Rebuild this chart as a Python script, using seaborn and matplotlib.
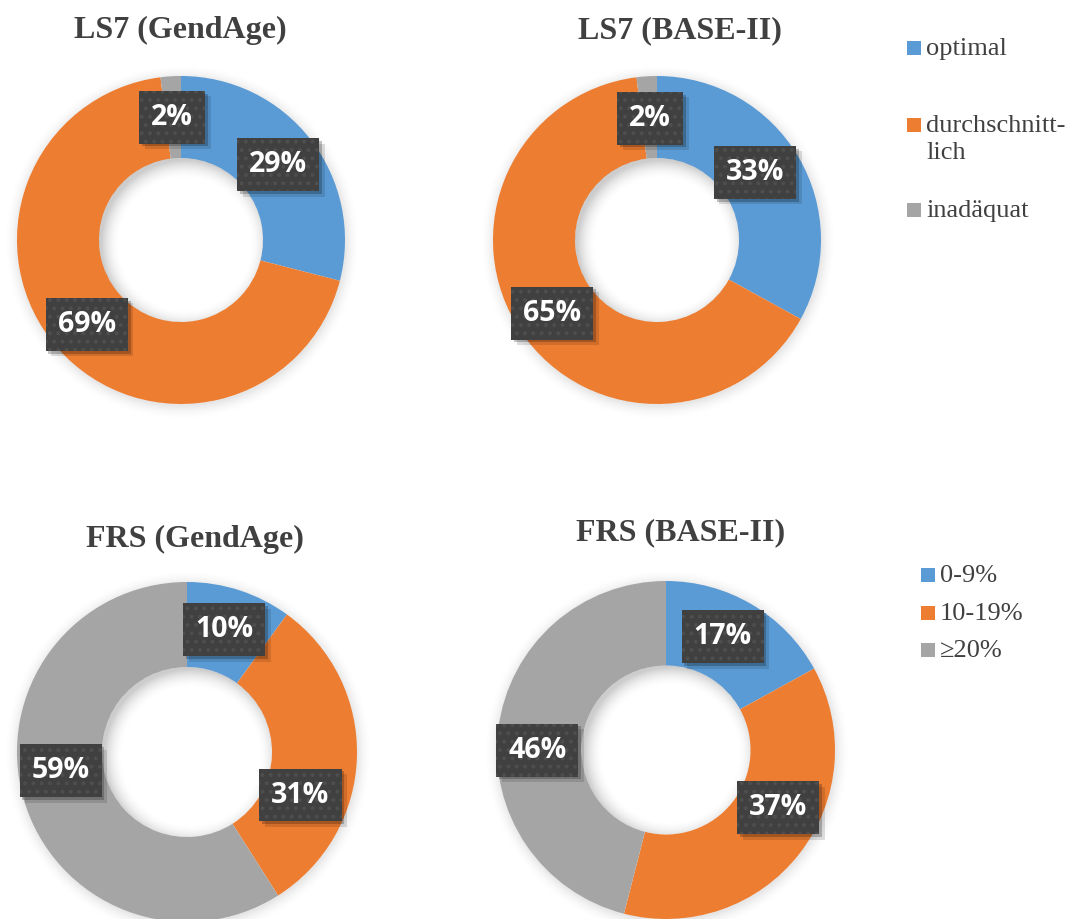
import matplotlib
matplotlib.use("Agg")
import matplotlib.pyplot as plt
import matplotlib.patheffects as pe
from matplotlib.patches import Rectangle, Circle
import numpy as np
import seaborn as sns

# Category names
ls7_categories = ["optimal", "durchschnitt-\nlich", "inadäquat"]
frs_categories = ["0-9%", "10-19%", "≥20%"]

# Shares in percent
ls7_gendage = [29, 69, 2]
ls7_base2 = [33, 65, 2]
frs_gendage = [10, 31, 59]
frs_base2 = [17, 37, 46]

titles = ["LS7 (GendAge)", "LS7 (BASE-II)", "FRS (GendAge)", "FRS (BASE-II)"]

sns.set_theme(style="white")
plt.rcParams["hatch.linewidth"] = 1.6
palette = sns.color_palette(["#5B9BD5", "#ED7D31", "#A5A5A5"])

W, H = 1070, 919
fig = plt.figure(figsize=(W / 100, H / 100), dpi=100)
ax = fig.add_axes([0, 0, 1, 1])


def fy(y):
    """Convert a top-down pixel row to the axes' bottom-up coordinate."""
    return H - y


class PlainShadow(pe.SimplePatchShadow):
    """Patch shadow drawn without the patch's hatch pattern."""

    def draw_path(self, renderer, gc, tpath, affine, rgbFace):
        gc0 = renderer.new_gc()
        gc0.copy_properties(gc)
        gc0.set_hatch(None)
        super().draw_path(renderer, gc0, tpath, affine, rgbFace)
        gc0.restore()


def radial_layer(cx, cy, extent_r, alpha_fn, zorder, clip_r=None):
    n = 300
    g = np.linspace(-extent_r, extent_r, n)
    X, Y = np.meshgrid(g, g)
    img = np.zeros((n, n, 4))
    img[..., 3] = alpha_fn(X, Y)
    im = ax.imshow(img, extent=(cx - extent_r, cx + extent_r, cy - extent_r, cy + extent_r),
                   origin="lower", zorder=zorder, interpolation="bilinear")
    if clip_r is not None:
        im.set_clip_path(Circle((cx, cy), clip_r, transform=ax.transData))


layout = [
    dict(values=ls7_gendage, center=(181, 240), r=164, title=(180, 38),
         shifts={0: (0, 0), 1: (-2, 3), 2: (-1, 0)}),
    dict(values=ls7_base2, center=(657, 240), r=164, title=(680, 38),
         shifts={0: (-8, -5), 1: (-3, 4), 2: (1, 1)}),
    dict(values=frs_gendage, center=(187, 752), r=170, title=(195, 547),
         shifts={0: (-2, -1), 1: (-14, 39), 2: (-4, -17)}),
    dict(values=frs_base2, center=(666, 750), r=169, title=(681, 540),
         shifts={0: (-8, -4), 1: (12, -20), 2: (-3, 16)}),
]

for spec, title in zip(layout, titles):
    cx, cy = spec["center"]
    r = spec["r"]
    rh = r * 0.5
    vals = spec["values"]
    ccy = fy(cy)

    # soft drop shadow outside the ring
    def outer(X, Y, r=r):
        d = np.hypot(X - 1, Y + 2)
        return np.clip(1 - (d - r) / 16, 0, 1) ** 2 * 0.10 * (d > r - 2)

    radial_layer(cx, ccy, r + 18, outer, zorder=0.5)

    wedges, _ = ax.pie(
        vals, colors=palette, startangle=90, counterclock=False,
        center=(cx, ccy), radius=r,
        wedgeprops=dict(width=r - rh, edgecolor="none", linewidth=0),
    )

    # inner shadow cast by the ring into the hole
    def inner(X, Y, rh=rh):
        d = np.hypot(X - 4, Y + 4)
        return np.clip((d - (rh - 18)) / 20, 0, 1) ** 2 * 0.20

    radial_layer(cx, ccy, rh, inner, zorder=2, clip_r=rh)

    for i, (w, v) in enumerate(zip(wedges, vals)):
        mid = np.radians((w.theta1 + w.theta2) / 2)
        rr = r * 0.75
        dx, dy = spec["shifts"].get(i, (0, 0))
        x = cx + rr * np.cos(mid) + dx
        y = ccy + rr * np.sin(mid) - dy
        t = ax.text(x, y, f"{v}%", ha="center", va="center", fontsize=20.5,
                    fontweight="bold", family="Open Sans", color="white", zorder=6,
                    bbox=dict(boxstyle="square,pad=0.42", facecolor="#404040",
                              edgecolor="#4e4e4e", linewidth=0, hatch=".."))
        t.get_bbox_patch().set_path_effects([
            PlainShadow(offset=(4, -4), shadow_rgbFace="black", alpha=0.12),
            PlainShadow(offset=(2, -2), shadow_rgbFace="black", alpha=0.22),
            pe.Normal(),
        ])

    tx, ty = spec["title"]
    ax.text(tx, fy(ty), title, ha="center", va="baseline", fontsize=23,
            fontweight="bold", family="Liberation Serif", color="#404040")

# Legends
ls7_rows = [(55, [55]), (132, [132, 159]), (217, [217])]
for (sq_base, baselines), name, col in zip(ls7_rows, ls7_categories, palette):
    ax.add_patch(Rectangle((907, fy(sq_base)), 14, 14, facecolor=col, edgecolor="none"))
    for line, b in zip(name.split("\n"), baselines):
        ax.text(926, fy(b), line, ha="left", va="baseline", fontsize=19,
                family="Liberation Serif", color="#404040")

frs_rows = [582, 620, 657]
for b, name, col in zip(frs_rows, frs_categories, palette):
    ax.add_patch(Rectangle((921, fy(b)), 14, 14, facecolor=col, edgecolor="none"))
    ax.text(940, fy(b), name, ha="left", va="baseline", fontsize=19,
            family="Liberation Serif", color="#404040")

ax.set_xlim(0, W)
ax.set_ylim(0, H)
ax.set_aspect("equal")
ax.axis("off")
fig.savefig("out.png", dpi=100, facecolor="white")
